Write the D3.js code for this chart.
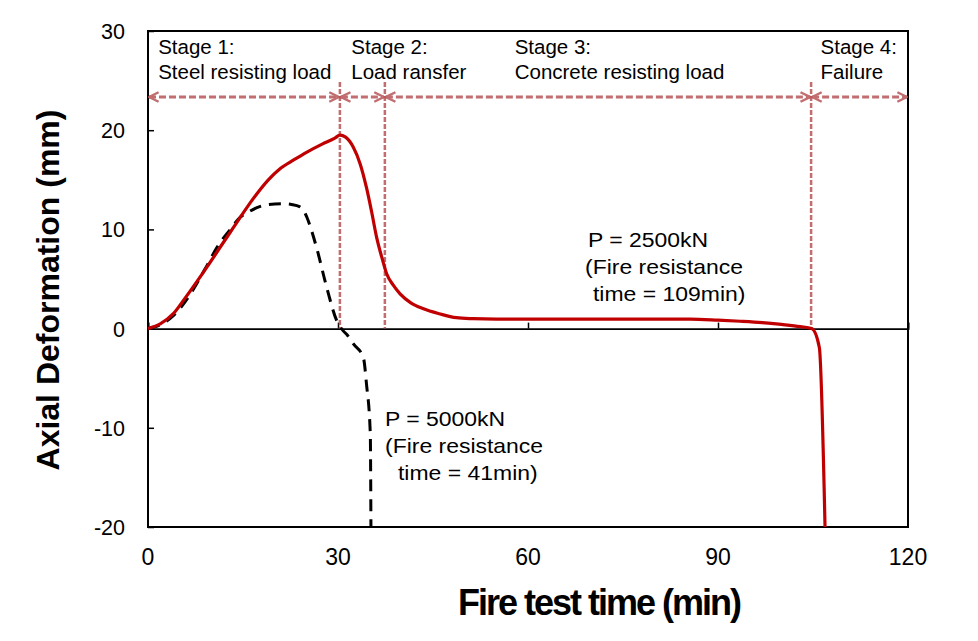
<!DOCTYPE html>
<html><head><meta charset="utf-8">
<script src="https://cdn.jsdelivr.net/npm/d3@7"></script>
<style>body{margin:0;background:#fff}svg{display:block}</style>
</head><body>
<svg id="c" width="978" height="641"></svg>
<script>
// Data (time in min, axial deformation in mm)
const red2500T = [0,2,4,6,9.3,11.5,13.5,15.5,17.2,19,20.8,23,25.1,27.5,29.5,30.3,31.2,32.4,33.5,34.5,35.3,36.1,37,37.7,38.7,39.8,41.5,43.5,46,48.7,51.3,55,60,70,80,85.6,90,93.5,97,100,103,104.8,106,106.9];
const red2500V = [0,0.5,1.5,3.2,6.2,8.3,10.2,12.1,13.6,15,16.1,17,17.8,18.6,19.2,19.5,19.3,18.3,16.6,14.2,11.8,9.2,7,5.5,4.4,3.5,2.6,2.0,1.5,1.1,1.0,0.95,0.95,0.95,0.95,0.95,0.85,0.74,0.6,0.42,0.2,0,-1.9,-20];
const blk5000T = [0,2,4,6.5,9,11,13,14.5,16,17.2,19,21.4,23.5,24.5,25.1,26.6,28.2,29.8,30.8,31.4,32.5,34,34.5,35.1,35.2];
const blk5000V = [0,0.4,1.3,3.3,6,8.3,10,11.2,11.8,12.2,12.5,12.6,12.4,12,11.2,8.2,4.2,0.8,-0.2,-0.6,-1.6,-2.9,-5.6,-10.6,-20];
const xTicks = [0,30,60,90,120];
const yTicks = [-20,-10,0,10,20,30];
const stageBounds = [0,30.3,37.4,104.7,120];
const stageLines = [30.3,37.4,104.7];
const stageLabelT = [1.6,32.1,57.9,106.2];
const stageTitles = ["Stage 1:","Stage 2:","Stage 3:","Stage 4:"];
const stageDescs = ["Steel resisting load","Load ransfer","Concrete resisting load","Failure"];
const note2500 = ["P = 2500kN","(Fire resistance"," time = 109min)"];
const note5000 = ["P = 5000kN","(Fire resistance","  time = 41min)"];

const svg = d3.select("#c");
const L=148,R=908,T=31,B=527;
const x = d3.scaleLinear().domain([0,120]).range([L,R]);
const y = d3.scaleLinear().domain([-20,30]).range([B,T]);
const font = "Arial, 'Liberation Sans', sans-serif";
const stageCol = "#b85457";

// frame
svg.append("rect").attr("x",L).attr("y",T).attr("width",R-L).attr("height",B-T)
  .attr("fill","none").attr("stroke","#000").attr("stroke-width",2);

// zero axis with inward ticks
const xAxis = svg.append("g").attr("transform",`translate(0,${y(0)})`)
  .call(d3.axisTop(x).tickValues(xTicks).tickSize(6).tickFormat(""));
xAxis.select(".domain").attr("stroke","#000").attr("stroke-width",1.8);
xAxis.selectAll("line").attr("stroke","#000").attr("stroke-width",1.5);

const yAxis = svg.append("g").attr("transform",`translate(${L},0)`)
  .call(d3.axisRight(y).tickValues(yTicks).tickSize(6).tickFormat(""));
yAxis.select(".domain").remove();
yAxis.selectAll("line").attr("stroke","#000").attr("stroke-width",1.5);

// tick labels
svg.append("g").selectAll("text").data(xTicks).join("text")
  .attr("x",d=>x(d)).attr("y",565).attr("text-anchor","middle")
  .attr("font-family",font).attr("font-size",23).attr("fill","#000").text(d=>d);
svg.append("g").selectAll("text").data(yTicks).join("text")
  .attr("x",125).attr("y",d=>y(d)+8).attr("text-anchor","end")
  .attr("font-family",font).attr("font-size",21.5).attr("fill","#000").text(d=>d);

// axis titles
svg.append("text").attr("x",599).attr("y",615).attr("text-anchor","middle")
  .attr("font-family",font).attr("font-weight","bold").attr("font-size",36)
  .attr("letter-spacing",-2).text("Fire test time (min)");
svg.append("text").attr("transform",`translate(59,290) rotate(-90)`).attr("text-anchor","middle")
  .attr("font-family",font).attr("font-weight","bold").attr("font-size",32).text("Axial Deformation (mm)");

// stage vertical lines
svg.append("g").selectAll("line").data(stageLines).join("line")
  .attr("x1",d=>x(d)).attr("x2",d=>x(d)).attr("y1",82).attr("y2",y(0))
  .attr("stroke",stageCol).attr("stroke-width",2.5).attr("stroke-dasharray","5,2").attr("opacity",0.85);

// arrow marker
const defs = svg.append("defs");
defs.append("marker").attr("id","ah").attr("viewBox","0 0 10 10").attr("refX",9).attr("refY",5)
  .attr("markerWidth",4).attr("markerHeight",4).attr("orient","auto-start-reverse").attr("markerUnits","strokeWidth")
  .append("path").attr("d","M1,1 L9,5 L1,9").attr("fill","none").attr("stroke",stageCol).attr("stroke-width",2);
const ay = 97;
const segs = d3.pairs(stageBounds);
svg.append("g").selectAll("line").data(segs).join("line")
  .attr("x1",d=>x(d[0])+1).attr("x2",d=>x(d[1])-1).attr("y1",ay).attr("y2",ay)
  .attr("stroke",stageCol).attr("stroke-width",3).attr("stroke-dasharray","7,3").attr("opacity",0.85)
  .attr("marker-start","url(#ah)").attr("marker-end","url(#ah)");

// stage labels
stageTitles.forEach((s,i)=>{
  const tx = x(stageLabelT[i]);
  svg.append("text").attr("x",tx).attr("y",54).attr("font-family",font).attr("font-size",20.5).text(s);
  svg.append("text").attr("x",tx).attr("y",79).attr("font-family",font).attr("font-size",20.5).text(stageDescs[i]);
});

// curves
const line = d3.line().x(d=>x(d[0])).y(d=>y(d[1])).curve(d3.curveMonotoneX);
svg.append("path").datum(blk5000T.map((t,i)=>[t,blk5000V[i]]))
  .attr("d",line).attr("fill","none").attr("stroke","#000").attr("stroke-width",3).attr("stroke-dasharray","12,8");
svg.append("path").datum(red2500T.map((t,i)=>[t,red2500V[i]]))
  .attr("d",line).attr("fill","none").attr("stroke","#c00000").attr("stroke-width",3.2);

// annotations
const ann = (lines,xs,y0)=>{
  lines.forEach((s,i)=>{
    svg.append("text").attr("transform",`translate(${xs[i]},${y0+i*27}) scale(1.12,1)`)
      .attr("font-family",font).attr("font-size",20.5).attr("xml:space","preserve").text(s.trim());
  });
};
ann(note2500,[588,585,593],247);
ann(note5000,[385,385,398],426);
</script>
</body></html>
